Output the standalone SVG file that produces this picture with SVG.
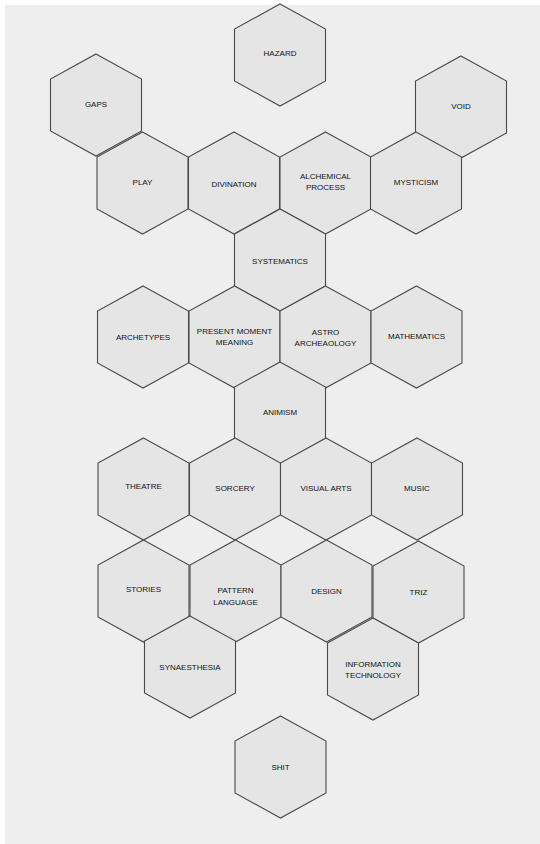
<svg xmlns="http://www.w3.org/2000/svg" xmlns:xlink="http://www.w3.org/1999/xlink" width="540" height="844" viewBox="0 0 540 844">
<style>
.hex{fill:#e5e5e5;stroke:#4a4a4a;stroke-width:1.1;stroke-linejoin:miter}
.t{font-family:"Liberation Sans",Arial,sans-serif;font-size:8px;fill:#111;text-anchor:middle}
</style>
<defs>
<polygon id="hx" class="hex" points="0,-51 45.5,-26 45.5,26 0,51 -45.5,26 -45.5,-26"/>
</defs>
<rect x="0" y="0" width="540" height="844" fill="#ffffff"/>
<rect x="5" y="5" width="535" height="839" fill="#eeeeee"/>
<g id="connectors"></g>
<g id="hazard" transform="translate(280,55)"><use xlink:href="#hx"/><text class="t" y="1">HAZARD</text></g>
<g id="gaps" transform="translate(96,105)"><use xlink:href="#hx"/><text class="t" y="2">GAPS</text></g>
<g id="void" transform="translate(461,107)"><use xlink:href="#hx"/><text class="t" y="2">VOID</text></g>
<g id="play" transform="translate(142.5,183)"><use xlink:href="#hx"/><text class="t" y="2">PLAY</text></g>
<g id="divination" transform="translate(234,183)"><use xlink:href="#hx"/><text class="t" y="3.5">DIVINATION</text></g>
<g id="alchemical" transform="translate(325.5,183)"><use xlink:href="#hx"/><text class="t" y="-4">ALCHEMICAL</text><text class="t" y="7">PROCESS</text></g>
<g id="mysticism" transform="translate(416,183)"><use xlink:href="#hx"/><text class="t" y="2">MYSTICISM</text></g>
<g id="systematics" transform="translate(280,260)"><use xlink:href="#hx"/><text class="t" y="3.5">SYSTEMATICS</text></g>
<g id="archetypes" transform="translate(143,337)"><use xlink:href="#hx"/><text class="t" y="3">ARCHETYPES</text></g>
<g id="present-moment" transform="translate(234.5,337)"><use xlink:href="#hx"/><text class="t" y="-3">PRESENT MOMENT</text><text class="t" y="8">MEANING</text></g>
<g id="astro" transform="translate(325.5,337)"><use xlink:href="#hx"/><text class="t" y="-2">ASTRO</text><text class="t" y="9">ARCHEAOLOGY</text></g>
<g id="mathematics" transform="translate(416.5,337)"><use xlink:href="#hx"/><text class="t" y="2">MATHEMATICS</text></g>
<g id="animism" transform="translate(280,413)"><use xlink:href="#hx"/><text class="t" y="2">ANIMISM</text></g>
<g id="theatre" transform="translate(143.5,489)"><use xlink:href="#hx"/><text class="t" y="0">THEATRE</text></g>
<g id="sorcery" transform="translate(235,489)"><use xlink:href="#hx"/><text class="t" y="2">SORCERY</text></g>
<g id="visual-arts" transform="translate(326,489)"><use xlink:href="#hx"/><text class="t" y="2">VISUAL ARTS</text></g>
<g id="music" transform="translate(417,489)"><use xlink:href="#hx"/><text class="t" y="2">MUSIC</text></g>
<g id="stories" transform="translate(143.5,591)"><use xlink:href="#hx"/><text class="t" y="1">STORIES</text></g>
<g id="pattern-language" transform="translate(235.5,591)"><use xlink:href="#hx"/><text class="t" y="2">PATTERN</text><text class="t" y="13.5">LANGUAGE</text></g>
<g id="design" transform="translate(326.5,591)"><use xlink:href="#hx"/><text class="t" y="3">DESIGN</text></g>
<g id="triz" transform="translate(418.5,592)"><use xlink:href="#hx"/><text class="t" y="3">TRIZ</text></g>
<g id="synaesthesia" transform="translate(190,667)"><use xlink:href="#hx"/><text class="t" y="3">SYNAESTHESIA</text></g>
<g id="information-technology" transform="translate(373,669)"><use xlink:href="#hx"/><text class="t" y="-2">INFORMATION</text><text class="t" y="8.5">TECHNOLOGY</text></g>
<g id="shit" transform="translate(280.5,767)"><use xlink:href="#hx"/><text class="t" y="3">SHIT</text></g>
</svg>
